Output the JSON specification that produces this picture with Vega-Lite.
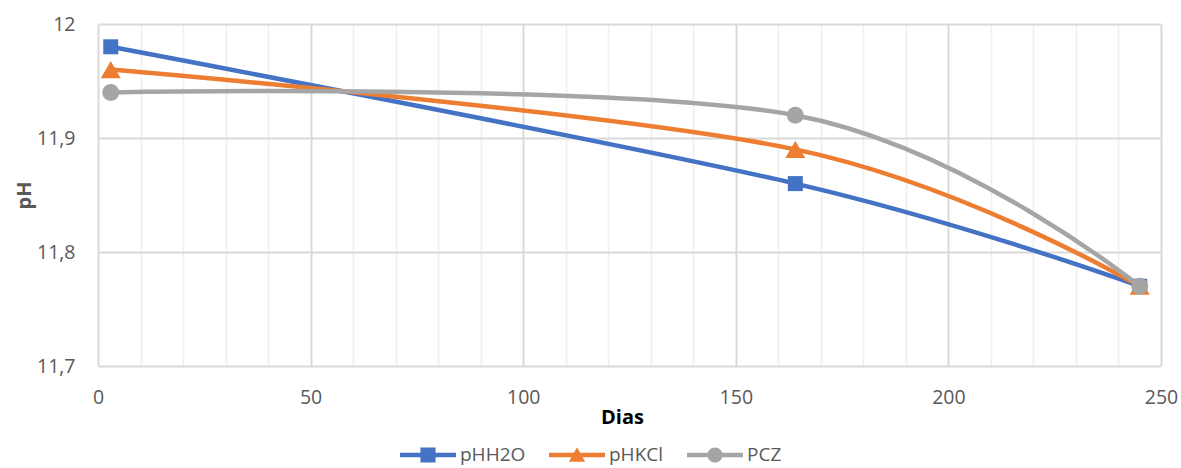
{
  "$schema": "https://vega.github.io/schema/vega-lite/v6.json",
  "autosize": "none",
  "width": 1063,
  "height": 342,
  "padding": {"left": 98, "top": 24, "right": 20, "bottom": 102},
  "background": "white",
  "config": {
    "view": {"stroke": null},
    "font": "Open Sans",
    "legend": {
      "orient": "none",
      "legendX": 302,
      "legendY": 403,
      "direction": "horizontal",
      "columns": 3,
      "columnPadding": 23,
      "padding": 0,
      "symbolSize": 3136,
      "symbolStrokeWidth": 0,
      "symbolOpacity": 1,
      "labelOffset": 4,
      "labelFont": "Open Sans",
      "labelFontSize": 19,
      "labelColor": "#595959",
      "title": null
    }
  },
  "data": {
    "values": [
      {"serie": "pHH2O", "dias": 3, "ph": 11.98},
      {"serie": "pHH2O", "dias": 164, "ph": 11.86},
      {"serie": "pHH2O", "dias": 245, "ph": 11.77},
      {"serie": "pHKCl", "dias": 3, "ph": 11.96},
      {"serie": "pHKCl", "dias": 164, "ph": 11.89},
      {"serie": "pHKCl", "dias": 245, "ph": 11.77},
      {"serie": "PCZ", "dias": 3, "ph": 11.94},
      {"serie": "PCZ", "dias": 164, "ph": 11.92},
      {"serie": "PCZ", "dias": 245, "ph": 11.77}
    ]
  },
  "encoding": {
    "x": {
      "field": "dias",
      "type": "quantitative",
      "scale": {"domain": [0, 250], "nice": false, "zero": false},
      "axis": {
        "title": "Dias",
        "titleFont": "Open Sans",
        "titleFontSize": 20,
        "titleFontWeight": "bold",
        "titleColor": "#000000",
        "titleX": 524,
        "titleY": 57,
        "titleBaseline": "alphabetic",
        "titleAnchor": "middle",
        "values": [0, 10, 20, 30, 40, 50, 60, 70, 80, 90, 100, 110, 120, 130, 140, 150, 160, 170, 180, 190, 200, 210, 220, 230, 240, 250],
        "labelExpr": "datum.value % 50 === 0 ? datum.label : ''",
        "labelFont": "Open Sans",
        "labelFontSize": 19.5,
        "labelColor": "#595959",
        "labelPadding": 22,
        "ticks": false,
        "tickSize": 0,
        "domain": false,
        "grid": true,
        "gridColor": {"condition": {"test": "datum.value % 50 === 0", "value": "#d9d9d9"}, "value": "#efefef"},
        "gridWidth": {"condition": {"test": "datum.value % 50 === 0", "value": 2}, "value": 1.5},
        "labelFlush": false,
        "labelOverlap": false
      }
    },
    "y": {
      "field": "ph",
      "type": "quantitative",
      "scale": {"domain": [11.7, 12], "nice": false, "zero": false},
      "axis": {
        "title": "pH",
        "titleFont": "Open Sans",
        "titleFontSize": 20,
        "titleFontWeight": "bold",
        "titleColor": "#595959",
        "titlePadding": 2,
        "values": [11.7, 11.8, 11.9, 12],
        "labelExpr": "replace(format(datum.value, '.1~f'), '.', ',')",
        "labelFont": "Open Sans",
        "labelFontSize": 19.5,
        "labelColor": "#595959",
        "labelPadding": 23,
        "ticks": false,
        "tickSize": 0,
        "domain": false,
        "grid": true,
        "gridColor": "#d9d9d9",
        "gridWidth": 2
      }
    }
  },
  "layer": [
    {
      "transform": [{"filter": "datum.serie === 'pHH2O'"}],
      "mark": {"type": "line", "interpolate": "cardinal", "strokeWidth": 4.5, "color": "#4472C4", "strokeCap": "round"}
    },
    {
      "transform": [{"filter": "datum.serie === 'pHH2O'"}],
      "mark": {"type": "point", "shape": "square", "filled": true, "size": 225, "color": "#4472C4", "opacity": 1}
    },
    {
      "transform": [{"filter": "datum.serie === 'pHKCl'"}],
      "mark": {"type": "line", "interpolate": "cardinal", "strokeWidth": 4.5, "color": "#ED7D31", "strokeCap": "round"}
    },
    {
      "transform": [{"filter": "datum.serie === 'pHKCl'"}],
      "mark": {"type": "point", "shape": "triangle-up", "filled": true, "size": 400, "color": "#ED7D31", "opacity": 1}
    },
    {
      "transform": [{"filter": "datum.serie === 'PCZ'"}],
      "mark": {"type": "line", "interpolate": "cardinal", "strokeWidth": 4.5, "color": "#A5A5A5", "strokeCap": "round"}
    },
    {
      "transform": [{"filter": "datum.serie === 'PCZ'"}],
      "mark": {"type": "point", "shape": "circle", "filled": true, "size": 289, "color": "#A5A5A5", "opacity": 1}
    },
    {
      "mark": {"type": "point", "filled": true, "opacity": 0},
      "encoding": {
        "color": {
          "field": "serie",
          "type": "nominal",
          "scale": {"domain": ["pHH2O", "pHKCl", "PCZ"], "range": ["#4472C4", "#ED7D31", "#A5A5A5"]},
          "legend": {"title": null}
        },
        "shape": {
          "field": "serie",
          "type": "nominal",
          "scale": {
            "domain": ["pHH2O", "pHKCl", "PCZ"],
            "range": [
              "M-1,-0.08H1V0.08H-1Z M-0.27,-0.27H0.27V0.27H-0.27Z",
              "M-1,-0.08H1V0.08H-1Z M0,-0.28L0.29,0.24H-0.29Z",
              "M-1,-0.08H1V0.08H-1Z M0.27,0A0.27,0.27,0,1,1,-0.27,0A0.27,0.27,0,1,1,0.27,0Z"
            ]
          },
          "legend": {"title": null}
        }
      }
    }
  ]
}
